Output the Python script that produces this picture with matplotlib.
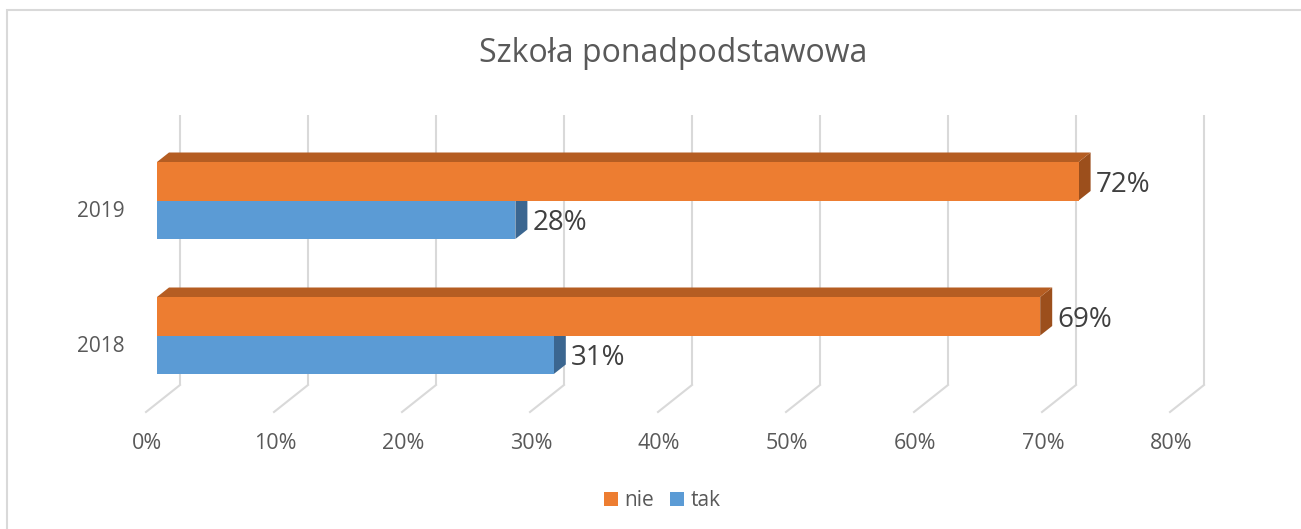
import matplotlib
matplotlib.use("Agg")
import matplotlib.pyplot as plt
from matplotlib.patches import Polygon, Rectangle, Patch

# --- data -------------------------------------------------------------
years = ["2018", "2019"]
nie = [69, 72]          # percent answering "nie"
tak = [31, 28]          # percent answering "tak"
x_ticks = [0, 10, 20, 30, 40, 50, 60, 70, 80]
x_tick_labels = [f"{t}%" for t in x_ticks]
title = "Szkoła ponadpodstawowa"
series_names = ["nie", "tak"]

# --- style --------------------------------------------------------------
plt.rcParams["font.family"] = ["Open Sans", "DejaVu Sans"]
ORANGE, ORANGE_TOP, ORANGE_SIDE = "#ED7D31", "#B55D22", "#9C4F1C"
BLUE, BLUE_SIDE = "#5B9BD5", "#3B6690"
GRID = "#D9D9D9"
TXT = "#595959"
LBL = "#404040"

W, H = 1301, 529
fig = plt.figure(figsize=(W / 100, H / 100), dpi=100)
fig.patch.set_facecolor("white")

# plot area of the front (bar) plane, in pixels
ax_left, ax_w = 157, 1024
ax_top, ax_h = 133, 270
ax = fig.add_axes([ax_left / W, (H - ax_top - ax_h) / H, ax_w / W, ax_h / H])
ax.set_xlim(0, 80)
ax.set_ylim(-0.5, 1.5)
ax.axis("off")

# pixel -> data conversions for the pseudo-3D offsets
sx = 80 / ax_w
sy = 2.0 / ax_h
bar_dx, bar_dy = 12 * sx, 9.5 * sy        # depth of each bar
wall_dx, wall_dy = 23 * sx, 18 * sy       # back wall behind the bars
floor_dx, floor_dy = -11 * sx, -9 * sy    # front edge of the floor

bh = 38.5 * sy
ypos = list(range(len(years)))

# back-wall gridlines and floor diagonals
y0, y1 = -0.5, 1.5
for t in x_ticks:
    ax.plot([t + wall_dx, t + wall_dx], [y0 + wall_dy, y1 + wall_dy],
            color=GRID, lw=1.5, zorder=1, solid_capstyle="butt", clip_on=False)
    ax.plot([t + wall_dx, t + floor_dx], [y0 + wall_dy, y0 + floor_dy],
            color=GRID, lw=1.5, zorder=1, clip_on=False)

# bars: blue (tak) below, orange (nie) above each category
lbl_shift = -3.7 * sy
for y, v_n, v_t in zip(ypos, nie, tak):
    # tak
    b_lo, b_hi = y - bh, y
    ax.add_patch(Polygon([(v_t, b_lo), (v_t + bar_dx, b_lo + bar_dy),
                          (v_t + bar_dx, b_hi + bar_dy), (v_t, b_hi)],
                         closed=True, facecolor=BLUE_SIDE, edgecolor="none", zorder=2,
                         clip_on=False))
    ax.barh(y - bh / 2, v_t, height=bh, color=BLUE, edgecolor="none", zorder=3)
    # nie
    o_lo, o_hi = y, y + bh
    ax.add_patch(Polygon([(v_n, o_lo), (v_n + bar_dx, o_lo + bar_dy),
                          (v_n + bar_dx, o_hi + bar_dy), (v_n, o_hi)],
                         closed=True, facecolor=ORANGE_SIDE, edgecolor="none", zorder=4,
                         clip_on=False))
    ax.add_patch(Polygon([(0, o_hi), (bar_dx, o_hi + bar_dy),
                          (v_n + bar_dx, o_hi + bar_dy), (v_n, o_hi)],
                         closed=True, facecolor=ORANGE_TOP, edgecolor="none", zorder=4,
                         clip_on=False))
    ax.barh(y + bh / 2, v_n, height=bh, color=ORANGE, edgecolor="none", zorder=5)

    # value labels
    ax.text(v_n + bar_dx + 5 * sx, y + bh / 2 + lbl_shift, f"{v_n}%", fontsize=20,
            color=LBL, ha="left", va="center", zorder=6, clip_on=False)
    ax.text(v_t + bar_dx + 5 * sx, y - bh / 2 + lbl_shift, f"{v_t}%", fontsize=20,
            color=LBL, ha="left", va="center", zorder=6, clip_on=False)

    # category label
    ax.text(floor_dx - 21 * sx, y + floor_dy - 2 * sy, years[y], fontsize=15, color=TXT,
            ha="right", va="center", clip_on=False)

# value-axis labels along the front edge of the floor
for t, lab in zip(x_ticks, x_tick_labels):
    ax.text(t + floor_dx + 1 * sx, y0 + floor_dy - 31.5 * sy, lab, fontsize=15.5,
            color=TXT, ha="center", va="center", clip_on=False)

# title
fig.text(673 / W, 1 - 53 / H, title, fontsize=23, color=TXT, ha="center", va="center")

# legend
handles = [Patch(facecolor=ORANGE, edgecolor="none"), Patch(facecolor=BLUE, edgecolor="none")]
fig.legend(handles, series_names, loc="center", bbox_to_anchor=(662 / W, 1 - 501 / H),
           ncol=2, frameon=False, fontsize=15, labelcolor=TXT,
           handlelength=0.67, handleheight=0.67, handletextpad=0.3, columnspacing=0.8)

# chart frame
fig.patches.append(Rectangle((7 / W, -0.1), 1.2, 1.1 - 10 / H, transform=fig.transFigure,
                             fill=False, edgecolor=GRID, lw=1.5))

fig.savefig("out.png", dpi=100, facecolor="white")
